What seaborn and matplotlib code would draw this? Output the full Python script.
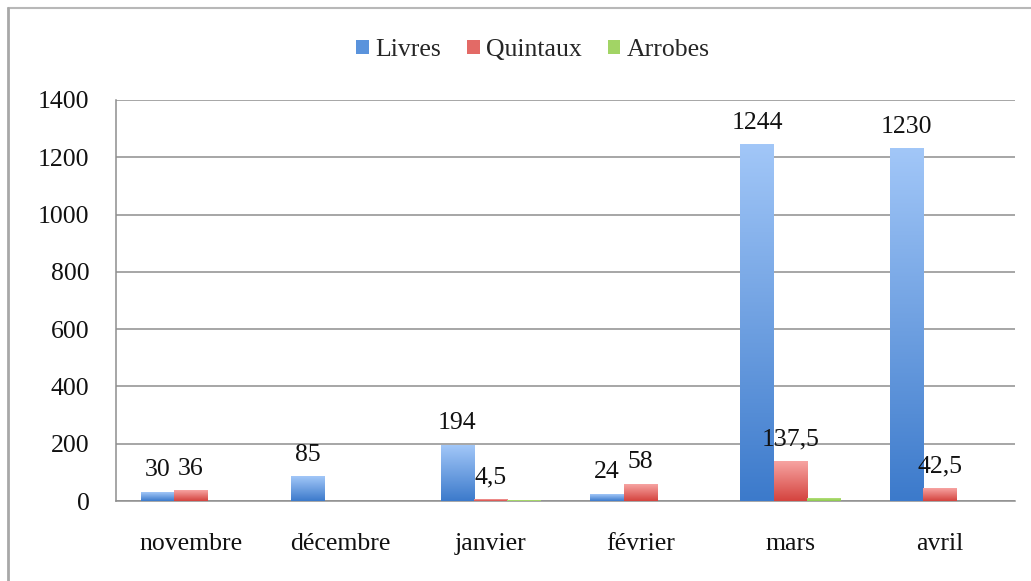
import numpy as np
import pandas as pd
import matplotlib
matplotlib.use("Agg")
import matplotlib.pyplot as plt
from matplotlib.colors import LinearSegmentedColormap
from matplotlib.patches import Patch
from matplotlib.lines import Line2D
import seaborn as sns

# Données mensuelles par unité de mesure
mois = ["novembre", "décembre", "janvier", "février", "mars", "avril"]
livres = [30, 85, 194, 24, 1244, 1230]
quintaux = [36, 0, 4.5, 58, 137.5, 42.5]
arrobes = [0, 0, 3, 0, 10, 0]
series = ["Livres", "Quintaux", "Arrobes"]
yticks = [0, 200, 400, 600, 800, 1000, 1200, 1400]

df = pd.DataFrame({
    "mois": mois * 3,
    "valeur": livres + quintaux + arrobes,
    "serie": [s for s in series for _ in mois],
})

sns.set_theme(style="white")
plt.rcParams["font.family"] = ["Liberation Serif", "DejaVu Serif"]

FS = 18.5

# Dégradés verticaux (clair en haut, foncé en bas)
grads = {
    "Livres": ("#3c7acb", "#a2c7f8"),
    "Quintaux": ("#d4433e", "#f7a4a2"),
    "Arrobes": ("#8cc84b", "#b4e07c"),
}
flat = {"Livres": "#5a93dc", "Quintaux": "#e36a66", "Arrobes": "#a2d465"}

fig = plt.figure(figsize=(10.31, 5.81), dpi=100)
ax = fig.add_axes([116 / 1031, 1 - 501 / 581, (1015 - 116) / 1031, (501 - 100) / 581])

sns.barplot(data=df, x="mois", y="valeur", hue="serie", hue_order=series,
            palette=flat, width=0.667, dodge=True, ax=ax, legend=False,
            saturation=1, linewidth=0, zorder=3)

ax.set_xlim(-0.5, len(mois) - 0.5)
ax.set_ylim(0, 1400)

vals = {"Livres": livres, "Quintaux": quintaux, "Arrobes": arrobes}
for cont, name in zip(ax.containers, series):
    cmap = LinearSegmentedColormap.from_list(name, grads[name])
    for bar, v in zip(cont, vals[name]):
        x, w, h = bar.get_x(), bar.get_width(), bar.get_height()
        if h > 0:
            grad = np.linspace(0, 1, 256).reshape(-1, 1)
            ax.imshow(grad, extent=[x, x + w, 0, h], origin="lower",
                      aspect="auto", cmap=cmap, zorder=4)
        if name != "Arrobes" and v > 0:
            txt = f"{v:g}".replace(".", ",")
            ax.annotate(txt, (x + w / 2, h), xytext=(0, 8),
                        textcoords="offset points", ha="center", va="bottom",
                        fontsize=FS, color="#111111", zorder=6)

ax.set_xlim(-0.5, len(mois) - 0.5)
ax.set_ylim(0, 1400)

# Grille et axes
ax.set_yticks(yticks)
ax.set_yticklabels([str(t) for t in yticks])
ax.yaxis.grid(True, color="#8e8e8e", linewidth=1.1, zorder=0)
ax.xaxis.grid(False)
ax.set_xticks(range(len(mois)))
ax.set_xticklabels(mois)
ax.set_xticks(np.arange(-0.5, len(mois), 1), minor=True)
ax.tick_params(axis="x", which="major", length=0, pad=23, labelsize=FS, colors="#111111")
ax.tick_params(axis="x", which="minor", length=8, width=1.1, color="#8e8e8e", direction="out")
ax.tick_params(axis="y", which="major", length=8, width=1.1, color="#8e8e8e",
               direction="out", pad=11, labelsize=FS, labelcolor="#111111")
for s in ["top", "right"]:
    ax.spines[s].set_visible(False)
for s in ["left", "bottom"]:
    ax.spines[s].set_color("#8e8e8e")
    ax.spines[s].set_linewidth(1.1)
ax.set_xlabel("")
ax.set_ylabel("")

# Légende
handles = [Patch(facecolor=flat[s], edgecolor="none", label=s) for s in series]
fig.legend(handles=handles, loc="center", bbox_to_anchor=(0.517, 1 - 50 / 581),
           ncol=3, frameon=False, fontsize=FS, handlelength=0.5,
           handleheight=0.5, handletextpad=0.25, columnspacing=1.0)

# Cadre du graphique
fig.add_artist(Line2D([8 / 1031, 1], [1 - 8 / 581, 1 - 8 / 581],
                      transform=fig.transFigure, color="#b8b8b8", linewidth=1.5))
fig.add_artist(Line2D([8 / 1031, 8 / 1031], [0, 1 - 8 / 581],
                      transform=fig.transFigure, color="#a8a8a8", linewidth=2))

fig.savefig("out.png", dpi=100, facecolor="white")
